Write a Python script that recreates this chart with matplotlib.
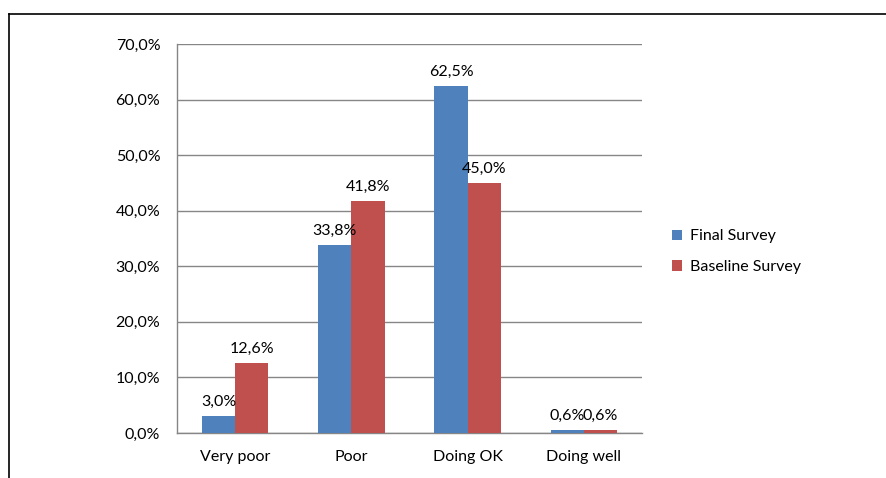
import matplotlib
matplotlib.use("Agg")
import matplotlib.pyplot as plt
import numpy as np
from matplotlib.lines import Line2D
from matplotlib.ticker import FuncFormatter

categories = ["Very poor", "Poor", "Doing OK", "Doing well"]
final_survey = [3.0, 33.8, 62.5, 0.6]
baseline_survey = [12.6, 41.8, 45.0, 0.6]
series_names = ["Final Survey", "Baseline Survey"]

blue = "#4F81BD"
red = "#C0504D"
grid_gray = "#868686"

plt.rcParams["font.family"] = ["Lato", "DejaVu Sans"]
fs = 11.5

fig = plt.figure(figsize=(8.87, 4.78), dpi=100)
ax = fig.add_axes([177 / 887, 1 - 433 / 478, 465 / 887, 389 / 478])

x = np.arange(len(categories))
w = 1 / 3.5
b1 = ax.bar(x - w / 2, final_survey, w, color=blue, label=series_names[0], zorder=3)
b2 = ax.bar(x + w / 2, baseline_survey, w, color=red, label=series_names[1], zorder=3)


def pct(v):
    return f"{v:.1f}%".replace(".", ",")


for bars, vals in ((b1, final_survey), (b2, baseline_survey)):
    for rect, v in zip(bars, vals):
        ax.text(rect.get_x() + rect.get_width() / 2, v + 1.3, pct(v),
                ha="center", va="bottom", fontsize=fs, color="#000000")

ax.set_xlim(-0.5, len(categories) - 0.5)
ax.set_ylim(0, 70)
ax.set_yticks(np.arange(0, 71, 10))
ax.yaxis.set_major_formatter(FuncFormatter(lambda v, p: pct(v)))
ax.set_xticks(x)
ax.set_xticklabels(categories)
ax.tick_params(axis="both", length=0, labelsize=fs, colors="#000000")
ax.tick_params(axis="y", pad=12)
ax.tick_params(axis="x", pad=12)
ax.grid(axis="y", color=grid_gray, linewidth=1, zorder=0)
for s in ("top", "right"):
    ax.spines[s].set_visible(False)
for s in ("left", "bottom"):
    ax.spines[s].set_color(grid_gray)
    ax.spines[s].set_linewidth(1)

ax.legend(loc="center left", bbox_to_anchor=(1.065, 0.466), frameon=False,
          fontsize=fs, handlelength=0.6, handleheight=0.6, handletextpad=0.5,
          labelspacing=1.05, borderpad=0, borderaxespad=0)

# outer frame (partial, cropped chart box)
fig.add_artist(Line2D([9 / 887, 1], [1 - 14 / 478, 1 - 14 / 478],
                      transform=fig.transFigure, color="black", linewidth=1.2))
fig.add_artist(Line2D([9 / 887, 9 / 887], [1 - 14 / 478, 0],
                      transform=fig.transFigure, color="black", linewidth=1.2))

fig.savefig("out.png", dpi=100)
